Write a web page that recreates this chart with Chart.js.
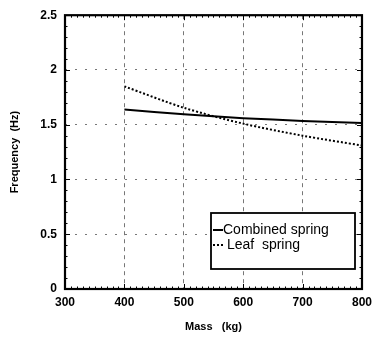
<!DOCTYPE html>
<html><head><meta charset="utf-8">
<script src="https://cdn.jsdelivr.net/npm/chart.js@4/dist/chart.umd.min.js"></script>
<style>html,body{margin:0;padding:0;background:#fff}#wrap{width:378px;height:338px}</style>
</head><body><div id="wrap"><canvas id="c" width="378" height="338"></canvas></div>
<script>
const massKg = [400, 500, 600, 700, 800];
const combinedSpring = [1.64, 1.595, 1.56, 1.535, 1.515];
const leafSpring = [1.85, 1.655, 1.51, 1.40, 1.31];
const xTicks = [300, 400, 500, 600, 700, 800];
const yTicks = [0, 0.5, 1, 1.5, 2, 2.5];
const yTickLabels = ['0', '0.5', '1', '1.5', '2', '2.5'];
const seriesNames = ['Combined spring', 'Leaf  spring'];

const FONT = 'Liberation Sans';

const frame = {
  id: 'frame',
  afterDraw(chart) {
    const {ctx, chartArea: a, scales: {x, y}} = chart;
    ctx.save();
    ctx.strokeStyle = '#000'; ctx.lineWidth = 1;
    for (let v = 300; v <= 800; v += 10) {
      const px = Math.round(x.getPixelForValue(v)) + 0.5;
      const L = (v % 100 === 0) ? 5 : 2.5;
      ctx.beginPath(); ctx.moveTo(px, a.bottom); ctx.lineTo(px, a.bottom - L); ctx.stroke();
      ctx.beginPath(); ctx.moveTo(px, a.top); ctx.lineTo(px, a.top + L); ctx.stroke();
    }
    for (let i = 0; i <= 25; i++) {
      const v = i / 10;
      const py = Math.round(y.getPixelForValue(v)) + 0.5;
      const L = (i % 5 === 0) ? 5 : 2.5;
      ctx.beginPath(); ctx.moveTo(a.left, py); ctx.lineTo(a.left + L, py); ctx.stroke();
      ctx.beginPath(); ctx.moveTo(a.right, py); ctx.lineTo(a.right - L, py); ctx.stroke();
    }
    ctx.lineWidth = 2.2;
    ctx.strokeRect(a.left, a.top, a.right - a.left, a.bottom - a.top);
    // legend
    const bx = 211, by = 213, bw = 144, bh = 56;
    ctx.fillStyle = '#fff';
    ctx.fillRect(bx, by, bw, bh);
    ctx.lineWidth = 1.8;
    ctx.strokeRect(bx, by, bw, bh);
    const ds = chart.data.datasets;
    ctx.font = '14px "' + FONT + '"';
    ctx.fillStyle = '#000';
    ctx.textBaseline = 'middle';
    const rows = [by + 17, by + 32];
    ds.forEach((d, i) => {
      ctx.lineWidth = d.borderWidth;
      ctx.setLineDash(d.borderDash || []);
      ctx.beginPath(); ctx.moveTo(bx + 2, rows[i]); ctx.lineTo(bx + 12, rows[i]); ctx.stroke();
      ctx.setLineDash([]);
      ctx.fillText((i === 1 ? ' ' : '') + d.label, bx + 12, rows[i]);
    });
    ctx.restore();
  }
};

new Chart(document.getElementById('c'), {
  type: 'line',
  data: {
    labels: massKg,
    datasets: [
      { label: seriesNames[0], data: massKg.map((m, i) => ({x: m, y: combinedSpring[i]})),
        borderColor: '#000', borderWidth: 2, pointRadius: 0, tension: 0.3, fill: false },
      { label: seriesNames[1], data: massKg.map((m, i) => ({x: m, y: leafSpring[i]})),
        borderColor: '#000', borderWidth: 2, borderDash: [2, 2], pointRadius: 0, tension: 0.3, fill: false }
    ]
  },
  options: {
    responsive: false, animation: false,
    layout: { padding: { top: 13, right: 13, left: 0, bottom: 0 } },
    plugins: { legend: { display: false }, tooltip: { enabled: false } },
    scales: {
      x: {
        type: 'linear', min: 300, max: 800,
        afterBuildTicks(s) { s.ticks = xTicks.map(v => ({value: v})); },
        afterFit(s) { s.height = 49; },
        grid: { color: (c) => (c.tick.value === 300 || c.tick.value === 800) ? 'rgba(0,0,0,0)' : '#777',
                lineWidth: 1, drawTicks: false },
        border: { display: false, dash: [4, 4] },
        ticks: { color: '#000', padding: 6, font: { family: FONT, size: 12, weight: 'bold' }, maxRotation: 0 },
        title: { display: true, text: 'Mass   (kg)', color: '#000', padding: { top: 8 },
                 font: { family: FONT, size: 11, weight: 'bold' } }
      },
      y: {
        type: 'linear', min: 0, max: 2.5,
        afterBuildTicks(s) { s.ticks = yTicks.map(v => ({value: v})); },
        afterFit(s) { s.width = 65; },
        grid: { color: (c) => (c.tick.value === 0 || c.tick.value === 2.5) ? 'rgba(0,0,0,0)' : '#777',
                lineWidth: 1, drawTicks: false },
        border: { display: false, dash: [2, 8] },
        ticks: { color: '#000', padding: 8, font: { family: FONT, size: 12, weight: 'bold' },
                 callback: (v) => { const i = yTicks.indexOf(v); return i >= 0 ? yTickLabels[i] : ''; } },
        title: { display: true, text: 'Frequency  (Hz)', color: '#000', padding: { top: 8, bottom: 4 },
                 font: { family: FONT, size: 11, weight: 'bold' } }
      }
    }
  },
  plugins: [frame]
});
</script></body></html>
